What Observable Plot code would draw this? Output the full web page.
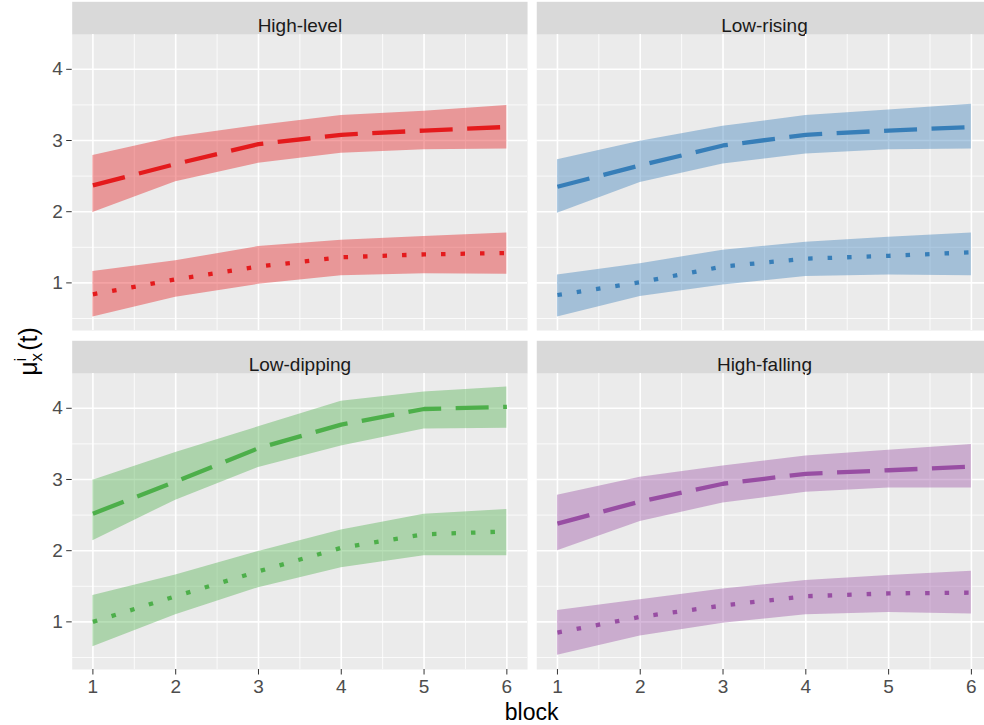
<!DOCTYPE html>
<html>
<head>
<meta charset="utf-8">
<script src="https://cdn.jsdelivr.net/npm/d3@7"></script>
<script src="https://cdn.jsdelivr.net/npm/@observablehq/plot@0.6"></script>
<style>
  html, body { margin: 0; padding: 0; background: #ffffff; overflow: hidden; }
  #chart { width: 984px; height: 725px; overflow: hidden; }
  #chart svg { max-width: none !important; }
</style>
</head>
<body>
<div id="chart"></div>
<script>
// ---- data ----
const blocks = [1, 2, 3, 4, 5, 6];
const panelNames = ["High-level", "Low-rising", "Low-dipping", "High-falling"];
const panelRow = [0, 0, 1, 1];
const panelCol = [0, 1, 0, 1];
const panelColors = ["#E41A1C", "#377EB8", "#4DAF4A", "#984EA3"];

// dashed series (upper), one row per panel
const dashedMean = [
  [2.37, 2.67, 2.95, 3.08, 3.14, 3.19],
  [2.35, 2.65, 2.93, 3.08, 3.14, 3.19],
  [2.52, 2.97, 3.44, 3.77, 3.99, 4.02],
  [2.38, 2.69, 2.94, 3.08, 3.13, 3.18]
];
const dashedLow = [
  [1.99, 2.42, 2.68, 2.82, 2.87, 2.88],
  [1.98, 2.41, 2.67, 2.81, 2.87, 2.88],
  [2.14, 2.71, 3.17, 3.47, 3.71, 3.72],
  [2.00, 2.41, 2.67, 2.82, 2.88, 2.88]
];
const dashedHigh = [
  [2.79, 3.05, 3.21, 3.35, 3.41, 3.49],
  [2.73, 2.99, 3.20, 3.35, 3.43, 3.51],
  [2.99, 3.38, 3.74, 4.10, 4.23, 4.30],
  [2.78, 3.03, 3.19, 3.33, 3.41, 3.49]
];
// dotted series (lower)
const dottedMean = [
  [0.84, 1.05, 1.23, 1.36, 1.40, 1.42],
  [0.83, 1.01, 1.23, 1.34, 1.38, 1.43],
  [1.00, 1.36, 1.71, 2.04, 2.23, 2.27],
  [0.85, 1.07, 1.23, 1.36, 1.40, 1.41]
];
const dottedLow = [
  [0.52, 0.80, 0.98, 1.10, 1.13, 1.12],
  [0.52, 0.81, 0.97, 1.09, 1.11, 1.10],
  [0.65, 1.10, 1.48, 1.76, 1.93, 1.93],
  [0.53, 0.80, 0.98, 1.10, 1.13, 1.11]
];
const dottedHigh = [
  [1.16, 1.31, 1.51, 1.60, 1.65, 1.70],
  [1.11, 1.27, 1.46, 1.57, 1.64, 1.70],
  [1.37, 1.66, 1.99, 2.29, 2.51, 2.58],
  [1.16, 1.31, 1.46, 1.58, 1.65, 1.71]
];

const xTicks = [1, 2, 3, 4, 5, 6];
const xMinor = [1.5, 2.5, 3.5, 4.5, 5.5];
const yTicks = [1, 2, 3, 4];
const yMinor = [0.5, 1.5, 2.5, 3.5];
const xTitle = "block";

// ---- tables built from the arrays ----
const panels = panelNames.map((name, p) => ({name, row: panelRow[p], col: panelCol[p]}));
const rows = [];
panelNames.forEach((name, p) => {
  blocks.forEach((b, i) => {
    rows.push({name, row: panelRow[p], col: panelCol[p], color: panelColors[p], series: "dashed",
      block: b, mean: dashedMean[p][i], lo: dashedLow[p][i], hi: dashedHigh[p][i]});
    rows.push({name, row: panelRow[p], col: panelCol[p], color: panelColors[p], series: "dotted",
      block: b, mean: dottedMean[p][i], lo: dottedLow[p][i], hi: dottedHigh[p][i]});
  });
});
const dashedRows = rows.filter(d => d.series === "dashed");
const dottedRows = rows.filter(d => d.series === "dotted");

const panelH = 296;
const stripH = 32.7;
const smallFont = 19;

const svg = Plot.plot({
  width: 992,
  height: 725,
  marginTop: 34,
  marginBottom: 56,
  marginLeft: 71.7,
  marginRight: 0.4,
  style: {fontFamily: "'Liberation Sans', Arial, sans-serif", background: "#ffffff", overflow: "visible", maxWidth: "none"},
  x: {domain: [0.75, 6.25]},
  y: {domain: [0.331, 4.489]},
  fx: {domain: [0, 1], paddingInner: 0.0198, paddingOuter: 0, round: false, axis: null},
  fy: {domain: [0, 1], paddingInner: 0.1267, paddingOuter: 0, round: false, axis: null},
  color: {type: "identity"},
  marks: [
    Plot.frame({fill: "#EBEBEB", stroke: null}),
    Plot.frame({fill: "#D9D9D9", stroke: null, insetTop: -stripH, insetBottom: panelH}),
    Plot.text(panels, {fx: "col", fy: "row", text: "name", frameAnchor: "top", dy: -stripH / 2,
      fill: "#1A1A1A", fontSize: smallFont}),
    Plot.gridX(xMinor, {stroke: "#ffffff", strokeOpacity: 1, strokeWidth: 0.8}),
    Plot.gridY(yMinor, {stroke: "#ffffff", strokeOpacity: 1, strokeWidth: 0.8}),
    Plot.gridX(xTicks, {stroke: "#ffffff", strokeOpacity: 1, strokeWidth: 1.6}),
    Plot.gridY(yTicks, {stroke: "#ffffff", strokeOpacity: 1, strokeWidth: 1.6}),
    Plot.areaY(rows, {x: "block", y1: "lo", y2: "hi", fx: "col", fy: "row", z: "series",
      fill: "color", fillOpacity: 0.4, curve: "linear"}),
    Plot.lineY(dashedRows, {x: "block", y: "mean", fx: "col", fy: "row", stroke: "color",
      strokeWidth: 4.3, strokeDasharray: "33,14.5", strokeLinecap: "butt", strokeLinejoin: "round"}),
    Plot.lineY(dottedRows, {x: "block", y: "mean", fx: "col", fy: "row", stroke: "color",
      strokeWidth: 4.3, strokeDasharray: "4.5,15", strokeLinecap: "butt", strokeLinejoin: "round"}),
    Plot.axisX({ticks: xTicks, tickSize: 5.5, tickPadding: 4.2, fontSize: smallFont,
      stroke: "#333333", fill: "#4D4D4D", label: null, tickFormat: d => String(d)}),
    Plot.axisY({ticks: yTicks, tickSize: 5.5, tickPadding: 3.8, fontSize: smallFont,
      stroke: "#333333", fill: "#4D4D4D", label: null, tickFormat: d => String(d)})
  ]
});
svg.style.maxWidth = "none";

const sel = d3.select(svg);
// x axis title
sel.append("text")
  .attr("x", (71.7 + 991.6) / 2)
  .attr("y", 719.5)
  .attr("text-anchor", "middle")
  .attr("font-size", 23)
  .attr("fill", "#000000")
  .text(xTitle);

// y axis title: mu with subscript x and superscript i, then (t)
const yt = sel.append("text")
  .attr("transform", "translate(37,351.5) rotate(-90)")
  .attr("text-anchor", "middle")
  .attr("font-size", 25)
  .attr("fill", "#000000");
yt.append("tspan").text("\u03BC");
yt.append("tspan").attr("font-size", 17).attr("dy", 5).text("x");
yt.append("tspan").attr("font-size", 17).attr("dx", -8.5).attr("dy", -16).text("i");
yt.append("tspan").attr("dy", 11).text("\u00A0(t)");

document.getElementById("chart").appendChild(svg);
</script>
</body>
</html>
